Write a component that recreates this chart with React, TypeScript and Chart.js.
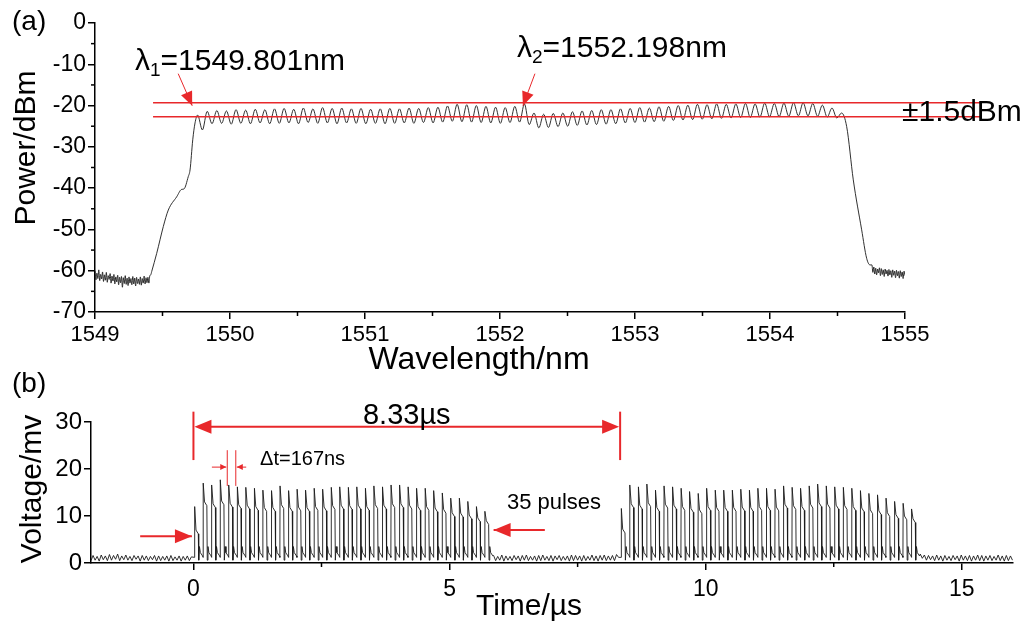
import React, { useEffect, useRef } from 'react';
import { Chart, registerables } from 'chart.js';

Chart.register(...registerables);

const FONT = "'Liberation Sans', Arial, Helvetica, sans-serif";
const RED = '#e8282b';
const INK = '#1a1a1a';

// ---------------- Panel (a): optical spectrum ----------------
const WL_MIN = 1549;
const WL_MAX = 1555;
const WL_MINOR = [1549.5, 1550.5, 1551.5, 1552.5, 1553.5, 1554.5];
const POWER_MIN = -70;
const POWER_MAX = 0;
const POWER_MINOR = [-5, -15, -25, -35, -45, -55, -65];

const LEFT_FLOOR_START = 1549.0;
const FLOOR_STEP = 0.007;
const leftFloor = [
  -60.0, -62.2, -60.6, -61.9, -59.8, -62.4, -60.9, -62.0, -60.3, -62.6,
  -61.0, -62.3, -60.4, -62.8, -61.2, -62.1, -60.7, -63.0, -61.3, -62.5,
  -60.9, -63.2, -61.5, -62.7, -61.1, -63.4, -61.6, -62.9, -61.4, -64.0,
  -61.7, -63.1, -61.2, -63.3, -61.8, -63.6, -61.5, -63.0, -61.9, -63.4,
  -61.4, -63.2, -61.8, -63.7, -61.6, -63.1, -62.0, -63.3, -61.5, -63.5,
  -61.9, -63.0, -61.3, -63.2, -61.7, -62.9, -61.6, -63.0, -61.2, -61.0,
];
const riseWl = [1549.42, 1549.457, 1549.506, 1549.543, 1549.605, 1549.642, 1549.659, 1549.691, 1549.704, 1549.724, 1549.741];
const risePower = [-60.2, -55.8, -49.3, -45.3, -42.1, -40.3, -40.2, -37.2, -35.6, -28.3, -24.2];

const RIPPLE_START = 1549.76;
const RIPPLE_PERIOD = 0.0712;
const ripplePeaks = [
  -22.3, -21.4, -21.2, -21.3, -21.0, -21.1, -20.9, -21.0, -20.8, -20.7,
  -20.9, -20.6, -20.8, -20.5, -20.7, -20.6, -20.8, -20.7, -20.9, -20.8,
  -20.7, -20.8, -20.6, -20.7, -20.5, -20.4, -20.1, -19.7, -19.8, -20.0,
  -20.2, -20.4, -20.5, -20.2, -19.6, -21.8, -22.1, -21.9, -21.8, -21.5,
  -21.3, -21.2, -21.0, -21.0, -20.8, -20.7, -20.5, -20.6, -20.3, -20.2,
  -20.0, -19.9, -19.7, -19.8, -19.6, -19.7, -19.6, -19.5, -19.6, -19.4,
  -19.5, -19.4, -19.3, -19.3, -19.5, -19.9, -20.6, -21.8,
];
const rippleTroughs = [
  -25.9, -24.4, -24.3, -24.5, -24.3, -24.4, -24.2, -24.4, -24.3, -24.2,
  -24.4, -24.1, -24.3, -24.2, -24.4, -24.2, -24.3, -24.4, -24.3, -24.4,
  -24.3, -24.2, -24.3, -24.1, -24.2, -24.0, -23.8, -23.9, -24.0, -24.1,
  -24.2, -24.3, -24.1, -24.0, -24.6, -25.4, -25.3, -25.1, -25.0, -24.8,
  -24.7, -24.6, -24.5, -24.4, -24.2, -24.1, -24.0, -23.9, -23.8, -23.6,
  -23.5, -23.4, -23.3, -23.2, -23.1, -23.0, -22.9, -22.9, -22.8, -22.7,
  -22.7, -22.6, -22.5, -22.5, -22.6, -22.8, -23.0,
];
const fallWl = [1554.568, 1554.617, 1554.679, 1554.716, 1554.741];
const fallPower = [-25.1, -38.0, -50.1, -57.0, -58.6];
const RIGHT_FLOOR_START = 1554.755;
const rightFloor = [
  -58.6, -60.4, -59.1, -60.8, -59.4, -61.0, -59.6, -60.5, -59.3, -61.2,
  -59.5, -60.9, -59.8, -61.4, -59.6, -60.8, -59.9, -61.3, -59.7, -61.0,
  -60.0, -61.6, -59.8, -61.1, -60.1, -61.7, -59.9, -61.2, -60.2, -61.8,
  -60.0, -61.4, -60.3, -61.9, -60.1, -61.2,
];

const LAMBDA1 = 1549.801;
const LAMBDA2 = 1552.198;
const LAMBDA1_ARROW_AT = 1549.72;
const LAMBDA2_ARROW_AT = 1552.17;
const BAND_TOP = -19.3;
const BAND_BOTTOM = -22.7;
const BAND_FROM = 1549.43;
const BAND_TO = 1555.56;

// ---------------- Panel (b): pulse trains ----------------
const T_MIN = -2;
const T_MAX = 16;
const T_TICKS = [0, 5, 10, 15];
const T_MINOR = [2.5, 7.5, 12.5];
const V_MIN = 0;
const V_MAX = 30;
const PERIOD_US = 8.33;
const PULSE_DT = 0.1667; // Δt = 167 ns
const BURST_STARTS = [0.02, 8.35];
const burst1Peaks = [
  12.0, 17.0, 16.6, 17.7, 16.6, 16.2, 16.1, 15.9, 15.5, 15.4,
  16.4, 15.4, 15.7, 15.5, 15.9, 15.7, 16.1, 16.2, 16.1, 16.2,
  15.9, 16.4, 16.2, 16.6, 16.6, 16.2, 15.9, 15.9, 15.4, 14.9,
  13.8, 13.8, 13.1, 12.0, 11.0,
];
const burst1Knees = [
  7.0, 13.0, 12.6, 13.2, 12.7, 12.4, 12.3, 12.0, 11.8, 11.8,
  12.4, 11.8, 11.9, 11.8, 12.0, 11.9, 12.2, 12.3, 12.2, 12.3,
  12.0, 12.4, 12.3, 12.6, 12.6, 12.3, 12.0, 12.0, 11.7, 11.4,
  10.7, 10.6, 10.2, 9.6, 9.0,
];
const burst2Peaks = [
  11.6, 16.6, 16.2, 16.8, 15.5, 16.4, 16.2, 15.9, 15.2, 14.8,
  15.9, 15.5, 15.5, 15.5, 15.7, 15.5, 15.9, 15.9, 15.7, 16.4,
  16.1, 15.9, 16.4, 16.8, 16.4, 16.2, 16.1, 15.9, 15.4, 14.8,
  14.5, 13.8, 13.1, 12.7, 11.5,
];
const burst2Knees = [
  7.2, 12.6, 12.3, 12.8, 11.8, 12.5, 12.3, 12.0, 11.6, 11.3,
  12.0, 11.8, 11.8, 11.8, 11.9, 11.8, 12.0, 12.0, 11.9, 12.5,
  12.2, 12.0, 12.5, 12.8, 12.5, 12.3, 12.2, 12.0, 11.7, 11.3,
  11.1, 10.7, 10.3, 10.0, 9.4,
];
// time offsets inside one pulse (µs) and the low-level readings of a pulse
const PULSE_T = [0, 0.004, 0.03, 0.075, 0.083, 0.097, 0.115, 0.158];
const PULSE_BASE = 1.2;
const PULSE_DROP = 0.6;
const PULSE_BUMP = 3.5;
const PULSE_AFTER = 2.2;
const PULSE_REST = 1.5;
const PULSE_SAG = 0.8;

const NOISE_STEP = 0.04;
const leftNoiseStart = -2.0;
const leftNoise = [
  0.5, 1.6, 0.6, 1.4, 0.4, 1.7, 0.7, 1.5, 0.5, 1.8, 0.6, 1.6, 0.8, 1.9, 0.5, 1.5, 0.7,
  1.7, 0.6, 1.4, 0.5, 1.6, 0.8, 1.5, 0.4, 1.6, 0.6, 1.5, 0.5, 1.4, 0.7, 1.6, 0.4, 1.5,
  0.5, 1.4, 0.6, 1.5, 0.4, 1.6, 0.5, 1.3, 0.6, 1.5, 0.4, 1.4, 0.6, 1.5, 0.5, 1.3,
];
const midNoiseStart = 5.86;
const midNoise = [
  1.6, 0.5, 1.4, 0.6, 1.7, 0.4, 1.5, 0.6, 1.4, 0.5, 1.6, 0.7, 1.5, 0.4, 1.6, 0.6,
  1.7, 0.5, 1.4, 0.6, 1.5, 0.4, 1.6, 0.5, 1.7, 0.6, 1.4, 0.5, 1.6, 0.4, 1.5, 0.7,
  1.6, 0.5, 1.4, 0.6, 1.5, 0.4, 1.7, 0.5, 1.6, 0.6, 1.5, 0.4, 1.6, 0.5, 1.4, 0.6,
  1.7, 0.5, 1.5, 0.4, 1.6, 0.6, 1.7, 0.5, 1.5, 0.6, 1.6, 0.5, 1.8, 1.2,
];
const rightNoiseStart = 14.19;
const rightNoise = [
  1.9, 1.0, 1.7, 0.6, 1.6, 0.7, 1.5, 0.5, 1.7, 0.6, 1.5, 0.4, 1.6, 0.6, 1.4, 0.5,
  1.6, 0.7, 1.5, 0.4, 1.7, 0.6, 1.5, 0.5, 1.6, 0.4, 1.5, 0.6, 1.7, 0.5, 1.6, 0.4,
  1.5, 0.6, 1.6, 0.5, 1.4, 0.6, 1.7, 0.5, 1.5, 0.4, 1.6, 0.5, 1.5, 0.6,
];

// ---------------- build series ----------------
type Pt = { x: number; y: number };

function buildSpectrum(): Pt[] {
  const pts: Pt[] = [];
  leftFloor.forEach((p, i) => pts.push({ x: LEFT_FLOOR_START + i * FLOOR_STEP, y: p }));
  riseWl.forEach((w, i) => pts.push({ x: w, y: risePower[i] }));
  ripplePeaks.forEach((p, i) => {
    const w = RIPPLE_START + i * RIPPLE_PERIOD;
    pts.push({ x: w, y: p });
    if (i < rippleTroughs.length) pts.push({ x: w + RIPPLE_PERIOD / 2, y: rippleTroughs[i] });
  });
  fallWl.forEach((w, i) => pts.push({ x: w, y: fallPower[i] }));
  rightFloor.forEach((p, i) => pts.push({ x: RIGHT_FLOOR_START + i * FLOOR_STEP, y: p }));
  return pts;
}

function pushBurst(pts: Pt[], start: number, peaks: number[], knees: number[]) {
  peaks.forEach((pk, i) => {
    const t0 = start + i * PULSE_DT;
    const kn = knees[i];
    const vals = [PULSE_BASE, pk, kn, kn - PULSE_SAG, PULSE_DROP, PULSE_BUMP, PULSE_AFTER, PULSE_REST];
    PULSE_T.forEach((dt, k) => pts.push({ x: t0 + dt, y: vals[k] }));
  });
}

function buildPulses(): Pt[] {
  const pts: Pt[] = [];
  leftNoise.forEach((v, i) => pts.push({ x: leftNoiseStart + i * NOISE_STEP, y: v }));
  pushBurst(pts, BURST_STARTS[0], burst1Peaks, burst1Knees);
  midNoise.forEach((v, i) => pts.push({ x: midNoiseStart + i * NOISE_STEP, y: v }));
  pushBurst(pts, BURST_STARTS[1], burst2Peaks, burst2Knees);
  rightNoise.forEach((v, i) => pts.push({ x: rightNoiseStart + i * NOISE_STEP, y: v }));
  return pts;
}

// ---------------- drawing helpers ----------------
function arrowHead(ctx: CanvasRenderingContext2D, fx: number, fy: number, tx: number, ty: number, len: number, half: number) {
  const a = Math.atan2(ty - fy, tx - fx);
  const bx = tx - len * Math.cos(a);
  const by = ty - len * Math.sin(a);
  ctx.beginPath();
  ctx.moveTo(tx, ty);
  ctx.lineTo(bx + half * Math.sin(a), by - half * Math.cos(a));
  ctx.lineTo(bx - half * Math.sin(a), by + half * Math.cos(a));
  ctx.closePath();
  ctx.fill();
}

function arrow(ctx: CanvasRenderingContext2D, fx: number, fy: number, tx: number, ty: number, len: number, half: number, lw: number) {
  ctx.lineWidth = lw;
  ctx.beginPath();
  ctx.moveTo(fx, fy);
  ctx.lineTo(tx, ty);
  ctx.stroke();
  arrowHead(ctx, fx, fy, tx, ty, len, half);
}

function line(ctx: CanvasRenderingContext2D, x1: number, y1: number, x2: number, y2: number) {
  ctx.beginPath();
  ctx.moveTo(x1, y1);
  ctx.lineTo(x2, y2);
  ctx.stroke();
}

function drawLambda(ctx: CanvasRenderingContext2D, sub: string, rest: string, x: number, y: number) {
  ctx.textAlign = 'left';
  ctx.textBaseline = 'alphabetic';
  ctx.font = `30px ${FONT}`;
  ctx.fillText('λ', x, y);
  let cx = x + ctx.measureText('λ').width;
  ctx.font = `19px ${FONT}`;
  ctx.fillText(sub, cx, y + 6);
  cx += ctx.measureText(sub).width;
  ctx.font = `30px ${FONT}`;
  ctx.fillText(rest, cx, y);
}

function verticalText(ctx: CanvasRenderingContext2D, text: string, x: number, y: number, size: number) {
  ctx.save();
  ctx.translate(x, y);
  ctx.rotate(-Math.PI / 2);
  ctx.textAlign = 'center';
  ctx.textBaseline = 'middle';
  ctx.font = `${size}px ${FONT}`;
  ctx.fillText(text, 0, 0);
  ctx.restore();
}

function axisCommon(tickLen: number) {
  return {
    grid: { drawOnChartArea: false, drawTicks: true, tickLength: tickLen, color: '#000', lineWidth: 1.5 },
    border: { display: true, color: '#000', width: 1.5 },
  };
}

const decoA = {
  id: 'decoA',
  afterDraw(chart: any) {
    const { ctx, chartArea: ca } = chart;
    const xs = chart.scales.x;
    const ys = chart.scales.y;
    ctx.save();
    ctx.strokeStyle = '#000';
    ctx.lineWidth = 1.5;
    WL_MINOR.forEach((v) => {
      const px = xs.getPixelForValue(v);
      line(ctx, px, ca.bottom, px, ca.bottom + 4);
    });
    POWER_MINOR.forEach((v) => {
      const py = ys.getPixelForValue(v);
      line(ctx, ca.left, py, ca.left - 4, py);
    });
    // ±1.5 dBm band
    ctx.strokeStyle = RED;
    ctx.fillStyle = RED;
    ctx.lineWidth = 1.5;
    const bx1 = xs.getPixelForValue(BAND_FROM);
    const bx2 = xs.getPixelForValue(BAND_TO);
    [BAND_TOP, BAND_BOTTOM].forEach((v) => {
      const py = ys.getPixelForValue(v);
      line(ctx, bx1, py, bx2, py);
    });
    const topY = ys.getPixelForValue(BAND_TOP);
    const t1 = xs.getPixelForValue(LAMBDA1_ARROW_AT);
    arrow(ctx, t1 - 14, topY - 29, t1, topY + 3, 14, 6, 1);
    const t2 = xs.getPixelForValue(LAMBDA2_ARROW_AT);
    arrow(ctx, t2 + 12, topY - 29, t2, topY + 3, 14, 6, 1);
    // texts
    ctx.fillStyle = '#000';
    ctx.textAlign = 'left';
    ctx.textBaseline = 'middle';
    ctx.font = `28px ${FONT}`;
    ctx.fillText('(a)', 12, 22);
    drawLambda(ctx, '1', `=${LAMBDA1.toFixed(3)}nm`, 135, 70);
    drawLambda(ctx, '2', `=${LAMBDA2.toFixed(3)}nm`, 517, 57);
    ctx.textBaseline = 'middle';
    ctx.font = `30px ${FONT}`;
    ctx.fillText('±1.5dBm', 902, 113);
    // axis titles
    verticalText(ctx, 'Power/dBm', 27, 148, 30);
    ctx.textAlign = 'center';
    ctx.textBaseline = 'middle';
    ctx.font = `32px ${FONT}`;
    ctx.fillText('Wavelength/nm', 479, 360);
    ctx.restore();
  },
};

const decoB = {
  id: 'decoB',
  afterDraw(chart: any) {
    const { ctx, chartArea: ca } = chart;
    const xs = chart.scales.x;
    const ys = chart.scales.y;
    const X = (v: number) => xs.getPixelForValue(v);
    const Y = (v: number) => ys.getPixelForValue(v);
    ctx.save();
    ctx.strokeStyle = '#000';
    ctx.lineWidth = 1.5;
    T_MINOR.forEach((v) => line(ctx, X(v), ca.bottom, X(v), ca.bottom + 4));

    ctx.strokeStyle = RED;
    ctx.fillStyle = RED;
    // 8.33 µs period marker
    ctx.lineWidth = 2;
    line(ctx, X(0), Y(32.2), X(0), Y(21.9));
    line(ctx, X(PERIOD_US), Y(32.2), X(PERIOD_US), Y(21.9));
    line(ctx, X(0) + 10, Y(29), X(PERIOD_US) - 10, Y(29));
    arrowHead(ctx, X(1), Y(29), X(0) + 1, Y(29), 17, 7);
    arrowHead(ctx, X(PERIOD_US - 1), Y(29), X(PERIOD_US) - 1, Y(29), 17, 7);
    // Δt marker
    ctx.lineWidth = 1;
    const d1 = X(0.66);
    const d2 = X(0.66 + PULSE_DT);
    line(ctx, d1, Y(24), d1, Y(16.4));
    line(ctx, d2, Y(24), d2, Y(16.4));
    arrow(ctx, X(0.36), Y(20.4), d1 - 1, Y(20.4), 6, 3, 1);
    arrow(ctx, X(1.03), Y(20.4), d2 + 1, Y(20.4), 6, 3, 1);
    // start arrow
    arrow(ctx, X(-1.04), Y(5.7), X(-0.03), Y(5.7), 17, 7, 2);
    // end arrow
    arrow(ctx, X(6.86), Y(7.0), X(5.86), Y(7.0), 17, 7, 2);

    ctx.fillStyle = '#000';
    ctx.textBaseline = 'middle';
    ctx.textAlign = 'left';
    ctx.font = `28px ${FONT}`;
    ctx.fillText('(b)', 12, 24);
    ctx.textAlign = 'center';
    ctx.font = `29px ${FONT}`;
    ctx.fillText(`${PERIOD_US.toFixed(2)}µs`, X(PERIOD_US / 2), Y(31.3));
    ctx.textAlign = 'left';
    ctx.font = `20px ${FONT}`;
    ctx.fillText('Δt=167ns', X(1.3), Y(22.1));
    ctx.font = `22px ${FONT}`;
    ctx.fillText('35 pulses', X(6.12), Y(12.8));
    // axis titles
    verticalText(ctx, 'Voltage/mv', 33, 129, 30);
    ctx.textAlign = 'center';
    ctx.textBaseline = 'middle';
    ctx.font = `30px ${FONT}`;
    ctx.fillText('Time/µs', 529, 247);
    ctx.restore();
  },
};

export default function App() {
  const refA = useRef<HTMLCanvasElement | null>(null);
  const refB = useRef<HTMLCanvasElement | null>(null);

  useEffect(() => {
    Chart.defaults.font.family = FONT;
    Chart.defaults.color = '#000';
    const chartA = new Chart(refA.current as HTMLCanvasElement, {
      type: 'line',
      data: {
        datasets: [
          {
            data: buildSpectrum(),
            borderColor: INK,
            borderWidth: 0.9,
            pointRadius: 0,
            cubicInterpolationMode: 'monotone',
            fill: false,
          },
        ],
      },
      options: {
        responsive: false,
        animation: false,
        events: [],
        layout: { padding: { left: 0, right: 122, top: 23, bottom: 0 } },
        plugins: { legend: { display: false }, tooltip: { enabled: false } },
        scales: {
          x: {
            type: 'linear',
            min: WL_MIN,
            max: WL_MAX,
            ...axisCommon(7),
            ticks: { stepSize: 1, font: { family: FONT, size: 22 }, color: '#000', padding: 3, maxRotation: 0, callback: (v: any) => String(v) },
            afterFit: (s: any) => { s.height = 68; },
          },
          y: {
            type: 'linear',
            min: POWER_MIN,
            max: POWER_MAX,
            ...axisCommon(7),
            ticks: { stepSize: 10, font: { family: FONT, size: 23 }, color: '#000', padding: 2, callback: (v: any) => String(v) },
            afterFit: (s: any) => { s.width = 95; },
          },
        },
      },
      plugins: [decoA],
    } as any);

    const chartB = new Chart(refB.current as HTMLCanvasElement, {
      type: 'line',
      data: {
        datasets: [
          {
            data: buildPulses(),
            borderColor: INK,
            borderWidth: 0.9,
            pointRadius: 0,
            tension: 0,
            fill: false,
          },
        ],
      },
      options: {
        responsive: false,
        animation: false,
        events: [],
        layout: { padding: { left: 0, right: 14, top: 62, bottom: 0 } },
        plugins: { legend: { display: false }, tooltip: { enabled: false } },
        scales: {
          x: {
            type: 'linear',
            min: T_MIN,
            max: T_MAX,
            ...axisCommon(7),
            afterBuildTicks: (s: any) => { s.ticks = T_TICKS.map((v) => ({ value: v })); },
            ticks: { font: { family: FONT, size: 23 }, color: '#000', padding: 6, maxRotation: 0, callback: (v: any) => String(v) },
            afterFit: (s: any) => { s.height = 61; },
          },
          y: {
            type: 'linear',
            min: V_MIN,
            max: V_MAX,
            ...axisCommon(7),
            ticks: { stepSize: 10, font: { family: FONT, size: 24 }, color: '#000', padding: 2, callback: (v: any) => String(v) },
            afterFit: (s: any) => { s.width = 91; },
          },
        },
      },
      plugins: [decoB],
    } as any);

    return () => {
      chartA.destroy();
      chartB.destroy();
    };
  }, []);

  return (
    <div style={{ position: 'absolute', left: 0, top: 0, width: 1027, height: 624, background: '#fff', overflow: 'hidden' }}>
      <canvas ref={refA} width={1027} height={380} style={{ position: 'absolute', left: 0, top: 0, display: 'block' }} />
      <canvas ref={refB} width={1027} height={264} style={{ position: 'absolute', left: 0, top: 360, display: 'block' }} />
    </div>
  );
}
